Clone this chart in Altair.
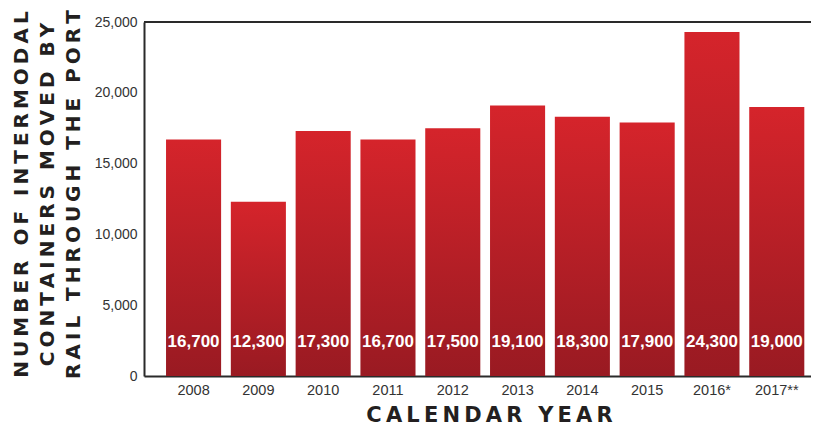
import altair as alt
import pandas as pd

years = ["2008", "2009", "2010", "2011", "2012", "2013", "2014", "2015", "2016*", "2017**"]
containers = [16700, 12300, 17300, 16700, 17500, 19100, 18300, 17900, 24300, 19000]
y_ticks = [0, 5000, 10000, 15000, 20000, 25000]
y_max = 25000

def spaced(s):
    return "\u2009".join(s)

y_title = [spaced("NUMBER OF INTERMODAL"), spaced("CONTAINERS MOVED BY"), spaced("RAIL THROUGH THE PORT")]
x_title = spaced("CALENDAR YEAR")

df = pd.DataFrame({"year": years, "value": containers})
df["label"] = [f"{v:,}" for v in containers]
df["base"] = 0

W, H = 667, 354

x_enc = alt.X(
    "year:N", sort=years,
    scale=alt.Scale(paddingInner=0.15, paddingOuter=0.2216, align=0.767),
    axis=alt.Axis(
        title=x_title, labelAngle=0, ticks=False, domain=True, domainColor="#2a2a2a", domainWidth=2,
        labelFont="Liberation Sans", labelFontSize=14.5, labelColor="#333333", labelPadding=7,
        titleFont="DejaVu Sans", titleFontWeight="bold", titleFontSize=21, titleColor="#231f20",
        titleX=345, titleY=45, titleAlign="center", titleBaseline="alphabetic", titleAnchor="start",
    ),
)

y_axis = alt.Axis(
    title=y_title, values=y_ticks, format=",.0f", formatType="number", ticks=False, grid=False,
    domain=True, domainColor="#2a2a2a", domainWidth=2,
    labelFont="Liberation Sans", labelFontSize=14, labelColor="#333333", labelPadding=7,
    titleFont="DejaVu Sans", titleFontWeight="bold", titleFontSize=20, titleColor="#231f20",
    titleLineHeight=26, titleAngle=-90, titleAlign="center", titleBaseline="top",
    titleX=-133, titleY=172, titleAnchor="start",
)
y_scale = alt.Scale(domain=[0, y_max], nice=False)

grad = alt.Gradient(
    gradient="linear",
    stops=[alt.GradientStop(color="#d5242b", offset=0), alt.GradientStop(color="#991a22", offset=1)],
    x1=0, x2=0, y1=0, y2=1,
)

bars = alt.Chart(df).mark_bar(color=grad, y2Offset=-5).encode(
    x=x_enc, y=alt.Y("value:Q", scale=y_scale, axis=y_axis)
)

labels = alt.Chart(df).mark_text(
    color="white", font="Liberation Sans", fontWeight="bold", fontSize=17, dy=-34, baseline="middle"
).encode(
    x=x_enc, y=alt.Y("base:Q", scale=y_scale, axis=y_axis), text="label:N"
)

top_line = alt.Chart(pd.DataFrame({"value": [y_max]})).mark_rule(color="#2a2a2a", strokeWidth=2).encode(
    y=alt.Y("value:Q", scale=y_scale, axis=y_axis)
)

chart = alt.layer(bars, labels, top_line).properties(
    width=W, height=H,
    autosize=alt.AutoSizeParams(type="none"),
    padding={"left": 136, "top": 14, "right": 0, "bottom": 51},
).configure_view(stroke=None).configure(background="white")

chart.save("out.html", embed_options={"renderer": "svg", "actions": False})
